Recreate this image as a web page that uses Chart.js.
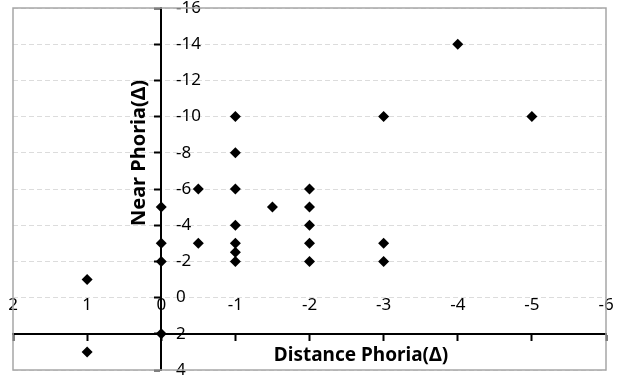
<!DOCTYPE html>
<html>
<head>
<meta charset="utf-8">
<script src="https://cdn.jsdelivr.net/npm/chart.js@4.4.0/dist/chart.umd.min.js"></script>
<style>
  html, body { margin: 0; padding: 0; background: #fff; }
  #wrap { width: 623px; height: 378px; position: relative; }
</style>
</head>
<body>
<div id="wrap"><canvas id="graficaPhoria"></canvas></div>
<script>
// values
const distancePhoria = [1, 1, 0, 0, 0, 0, -0.5, -0.5, -1, -1, -1, -1, -1, -1, -1, -1.5, -2, -2, -2, -2, -2, -3, -3, -3, -4, -5];
const nearPhoria     = [-1, 3, -5, -3, -2, 2, -6, -3, -10, -8, -6, -4, -3, -2.5, -2, -5, -6, -5, -4, -3, -2, -10, -3, -2, -14, -10];

const xTickValues = [2, 1, 0, -1, -2, -3, -4, -5, -6];
const yTickValues = [-16, -14, -12, -10, -8, -6, -4, -2, 0, 2, 4];

const xTitle = "Distance Phoria(Δ)";
const yTitle = "Near Phoria(Δ)";

const tickFont = { family: "Noto Sans", size: 17 };

function setTicks(values) {
  return scale => { scale.ticks = values.map(v => ({ value: v })); };
}

const puntos = distancePhoria.map((d, i) => ({ x: d, y: nearPhoria[i] }));

// gray frame around the plot area
const marco = {
  id: "marco",
  afterDraw(chart) {
    const { ctx, chartArea: a } = chart;
    ctx.save();
    ctx.strokeStyle = "#a6a6a6";
    ctx.lineWidth = 1.5;
    ctx.strokeRect(a.left, a.top, a.right - a.left, a.bottom - a.top);
    ctx.restore();
  }
};

// axis titles (Excel style, sitting next to the crossing axes)
const titulos = {
  id: "titulos",
  afterDraw(chart) {
    const ctx = chart.ctx;
    ctx.save();
    ctx.fillStyle = "#000";
    ctx.textAlign = "center";
    ctx.textBaseline = "middle";
    ctx.font = 'bold 19px "Noto Sans"';
    ctx.fillText(xTitle, 361, 356);
    ctx.font = 'bold 20px "Noto Sans"';
    ctx.translate(139, 153);
    ctx.rotate(-Math.PI / 2);
    ctx.fillText(yTitle, 0, 0);
    ctx.restore();
  }
};

new Chart(document.getElementById("graficaPhoria"), {
  type: "scatter",
  data: {
    datasets: [{
      label: "Phoria",
      data: puntos,
      xAxisID: "x",
      yAxisID: "y",
      pointStyle: "rectRot",
      pointRadius: 5.5,
      pointHoverRadius: 5.5,
      backgroundColor: "#000",
      borderColor: "#000",
      borderWidth: 0
    }]
  },
  options: {
    responsive: true,
    maintainAspectRatio: false,
    animation: false,
    layout: { padding: { left: 13, right: 17, top: 8, bottom: 8 } },
    plugins: { legend: { display: false }, tooltip: { enabled: false } },
    scales: {
      x: {
        type: "linear", min: -6, max: 2, reverse: true,
        position: { y: 2 },
        afterBuildTicks: setTicks(xTickValues),
        grid: { drawOnChartArea: false, tickLength: 6, tickColor: "#000", tickWidth: 2 },
        border: { color: "#000", width: 2 },
        ticks: { display: false }
      },
      y: {
        type: "linear", min: -16, max: 4, reverse: true,
        position: { x: 0 },
        afterBuildTicks: setTicks(yTickValues),
        grid: { color: "#dcdcdc", lineWidth: 1, tickLength: 6, tickColor: "#000", tickWidth: 2 },
        border: { color: "#000", width: 2, dash: [5, 3] },
        ticks: { display: false }
      },
      xl: {
        axis: "x", type: "linear", min: -6, max: 2, reverse: true,
        position: { y: 0 },
        afterBuildTicks: setTicks(xTickValues),
        grid: { display: false, drawTicks: false },
        border: { display: false },
        ticks: { padding: -3, color: "#000", font: tickFont, maxRotation: 0, autoSkip: false }
      },
      yl: {
        axis: "y", type: "linear", min: -16, max: 4, reverse: true,
        position: "left",
        afterBuildTicks: setTicks(yTickValues),
        afterFit: s => { s.width = 0; s.paddingTop = 0; s.paddingBottom = 0; },
        grid: { display: false, drawTicks: false },
        border: { display: false },
        ticks: { mirror: true, padding: 163, color: "#000", font: tickFont, autoSkip: false }
      }
    }
  },
  plugins: [marco, titulos]
});
</script>
</body>
</html>
